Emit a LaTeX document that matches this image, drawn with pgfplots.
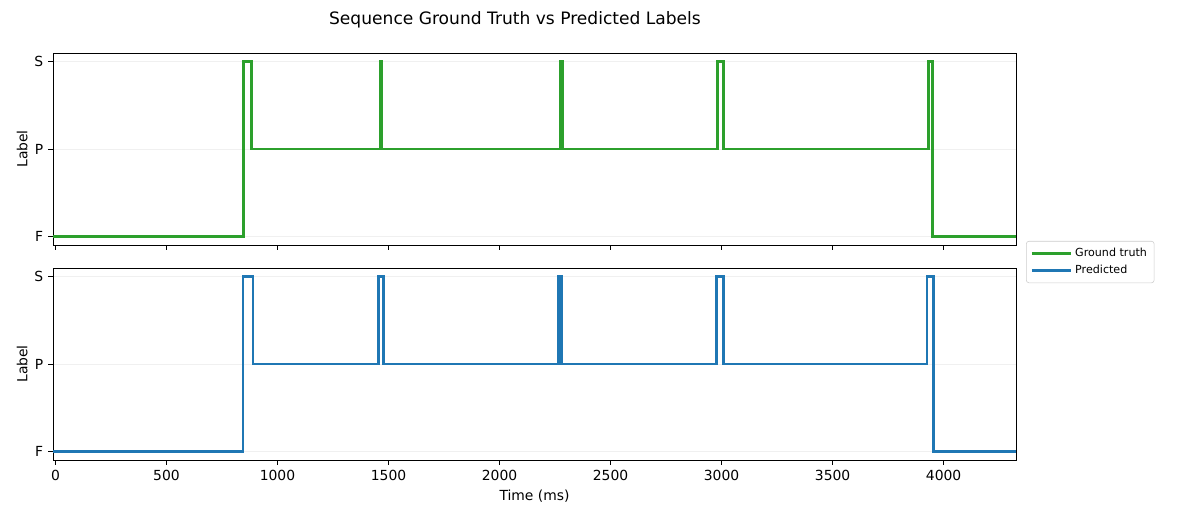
\documentclass[border=0pt]{standalone}
\usepackage{pgfplots}
\pgfplotsset{compat=1.18}
\usepackage{fontspec}
\setmainfont{DejaVu Sans}
\definecolor{tabgreen}{HTML}{2CA02C}
\definecolor{tabblue}{HTML}{1F77B4}
\pgfplotsset{
  mystyle/.style={
    scale only axis, width=693.36pt, height=138.24pt,
    xmin=-11, xmax=4326, ymin=-0.1, ymax=2.1,
    ytick={0,1,2}, yticklabels={F,P,S},
    xtick={0,500,1000,1500,2000,2500,3000,3500,4000},
    tick align=outside, tick pos=left,
    major tick length=3.5pt,
    every tick/.style={black, line width=0.6pt},
    axis line style={line width=0.6pt},
    ymajorgrids, grid style={gray!12, line width=0.5pt},
    ticklabel style={font=\fontsize{10}{12}\selectfont},
    label style={font=\fontsize{10}{12}\selectfont},
    /pgf/number format/assume math mode=true,
    /pgf/number format/1000 sep={},
    ylabel={Label},
    ylabel style={yshift=-2pt},
    anchor=south west,
  }
}
\begin{document}
\begin{tikzpicture}
\useasboundingbox (0,0) rectangle (851.76pt,365.76pt);
\node[font=\fontsize{12.3}{14}\selectfont] at (370.8pt,351.36pt) {Sequence Ground Truth vs Predicted Labels};
\begin{axis}[mystyle, at={(38.16pt,189.36pt)}, xticklabels={}]
\addplot[const plot, tabgreen, line width=2pt] coordinates {
(-11,0) (846,2) (884,1) (1462,2) (1470,1) (2274,2) (2282,1) (2981,2) (3008,1) (3932,2) (3951,0) (4326,0)};
\end{axis}
\begin{axis}[mystyle, at={(38.16pt,34.56pt)}, xlabel={Time (ms)},
  legend style={at={(1.0104,1.031)}, anchor=west, font=\fontsize{8}{9.6}\selectfont,
    draw=gray!40, rounded corners=2pt, inner xsep=3pt, inner ysep=3pt,
    nodes={inner sep=2.2pt}},
  legend image code/.code={\draw[#1] (0pt,0pt) -- (28pt,0pt);},
  legend cell align=left]
\addlegendimage{tabgreen, line width=2pt}
\addlegendentry{Ground truth}
\addlegendimage{tabblue, line width=2pt}
\addlegendentry{Predicted}
\addplot[const plot, tabblue, line width=2pt, forget plot] coordinates {
(-11,0) (845,2) (890,1) (1454,2) (1477,1) (2265,2) (2280,1) (2978,2) (3008,1) (3925,2) (3954,0) (4326,0)};
\end{axis}
\end{tikzpicture}
\end{document}
